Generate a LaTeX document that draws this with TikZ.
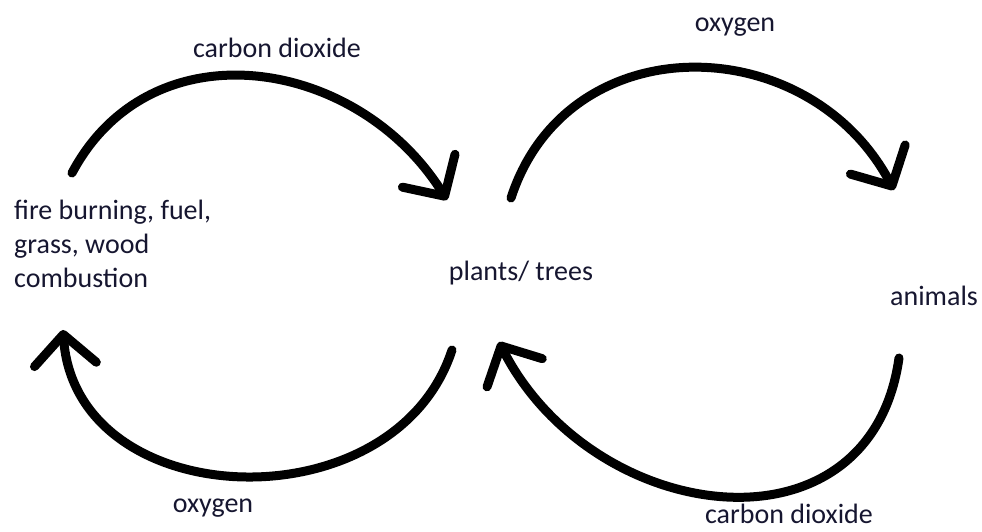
\documentclass[tikz,border=0pt]{standalone}
\usepackage{fontspec}
\setmainfont{Carlito}
\usetikzlibrary{arrows.meta,positioning}
\definecolor{labeltext}{RGB}{22,22,48}
\definecolor{cycleline}{RGB}{0,0,0}

\begin{document}
\begin{tikzpicture}[x=1pt, y=1pt,
  font=\fontsize{28}{34}\selectfont, >={Straight Barb[round, length=30pt, width=62pt]},
  lbl/.style={text=labeltext, inner sep=0pt, anchor=base},
  item/.style={text=labeltext, inner sep=0pt, align=left},
  cyc/.style={draw=cycleline, line width=9pt, line cap=round, ->}]
  \useasboundingbox[fill=white] (0,0) rectangle (982,531);
  % places in the cycle
  \node[item, anchor=base west] (fire) at (14,244) {fire burning, fuel,\\grass, wood\\combustion};
  \node[lbl] (plants) at (521,251) {plants/ trees};
  \node[lbl, anchor=base west] (animals) at (890,226) {animals};
  % gases
  \node[lbl] (co2top) at (277,473) {carbon dioxide};
  \node[lbl] (o2top) at (735,499) {oxygen};
  \node[lbl] (o2bottom) at (213,19) {oxygen};
  \node[lbl] (co2bottom) at (789,8) {carbon dioxide};
  % ends of the arrows
  \coordinate (fireout) at (72,358);
  \coordinate (plantsin) at (447,331);
  \coordinate (plantsout) at (511,333);
  \coordinate (animalsin) at (894,341);
  \coordinate (plantsback) at (452,181);
  \coordinate (firein) at (63,201);
  \coordinate (animalsout) at (899,173);
  \coordinate (plantsret) at (499,189);
  \draw[cyc] (fireout) to[out=62, in=122, looseness=1.15] (plantsin);
  \draw[cyc] (plantsout) to[out=72, in=118, looseness=1.22] (animalsin);
  \draw[cyc] (plantsback) to[out=-108, in=-86, looseness=1.22] (firein);
  \draw[cyc] (animalsout) to[out=-98, in=-63, looseness=1.32] (plantsret);
\end{tikzpicture}
\end{document}
